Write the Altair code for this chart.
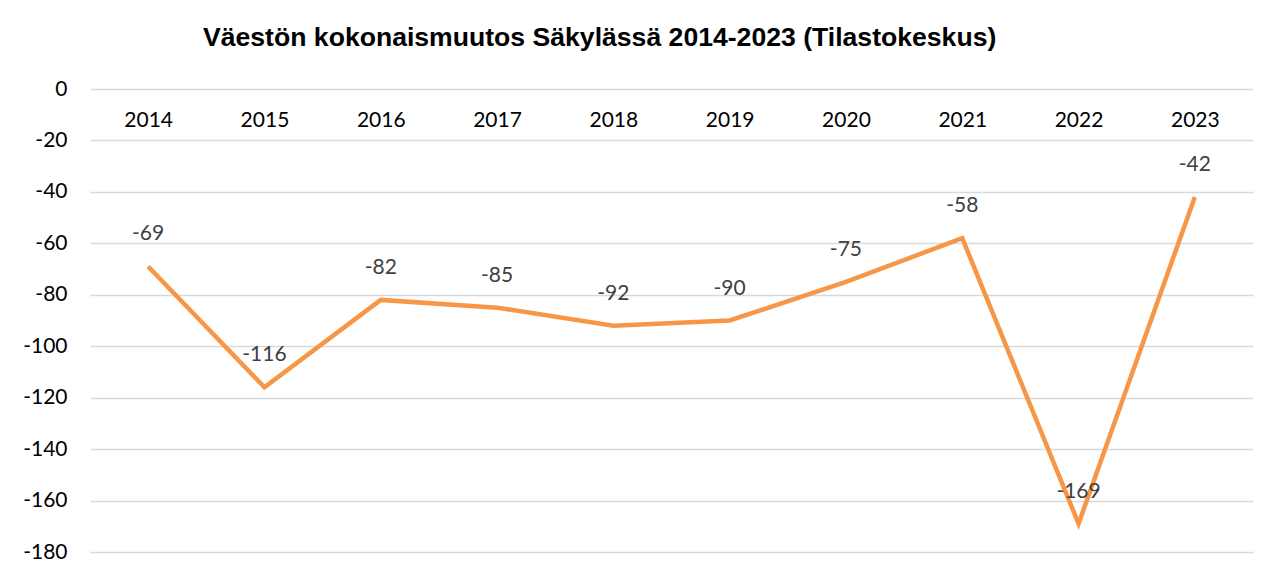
import altair as alt
import pandas as pd

years = ["2014", "2015", "2016", "2017", "2018", "2019", "2020", "2021", "2022", "2023"]
values = [-69, -116, -82, -85, -92, -90, -75, -58, -169, -42]
y_ticks = [0, -20, -40, -60, -80, -100, -120, -140, -160, -180]

df = pd.DataFrame({"year": years, "value": values})

FONT = "Lato"
LINE = "#F79646"

base = alt.Chart(df).encode(
    x=alt.X("year:N", sort=years,
            scale=alt.Scale(paddingOuter=0.5),
            axis=alt.Axis(title=None, orient="bottom", offset=-443, domain=False, ticks=False,
                          labelAngle=0, labelPadding=0, labelFont=FONT, labelFontSize=21,
                          labelColor="#000000", grid=False, labelBaseline="top")),
    y=alt.Y("value:Q", scale=alt.Scale(domain=[-180, 0], nice=False),
            axis=alt.Axis(title=None, values=y_ticks, domain=False, ticks=False,
                          labelExpr="replace(datum.label, '\u2212', '-')",
                          labelPadding=23, labelFont=FONT, labelFontSize=21,
                          labelColor="#000000", grid=True, gridColor="#d9d9d9",
                          gridWidth=1.5)),
)

line = base.mark_line(color=LINE, strokeWidth=4.5, strokeJoin="miter")
labels = base.transform_calculate(lbl="'' + datum.value").mark_text(
    dy=-32, font=FONT, fontSize=21, color="#404040").encode(text="lbl:N")

chart = (line + labels).properties(
    width=1163, height=463,
    title=alt.TitleParams(
        "Väestön kokonaismuutos Säkylässä 2014-2023 (Tilastokeskus)",
        font="Liberation Sans", fontSize=26.6, fontWeight="bold", color="#000000",
        anchor="start", dx=113, offset=26, frame="group"),
    padding={"left": 82, "top": 81, "right": 20, "bottom": 16},
    autosize=alt.AutoSizeParams(type="none"),
).configure_view(stroke=None)

chart.save("out.html", embed_options={"renderer": "svg", "actions": False})
